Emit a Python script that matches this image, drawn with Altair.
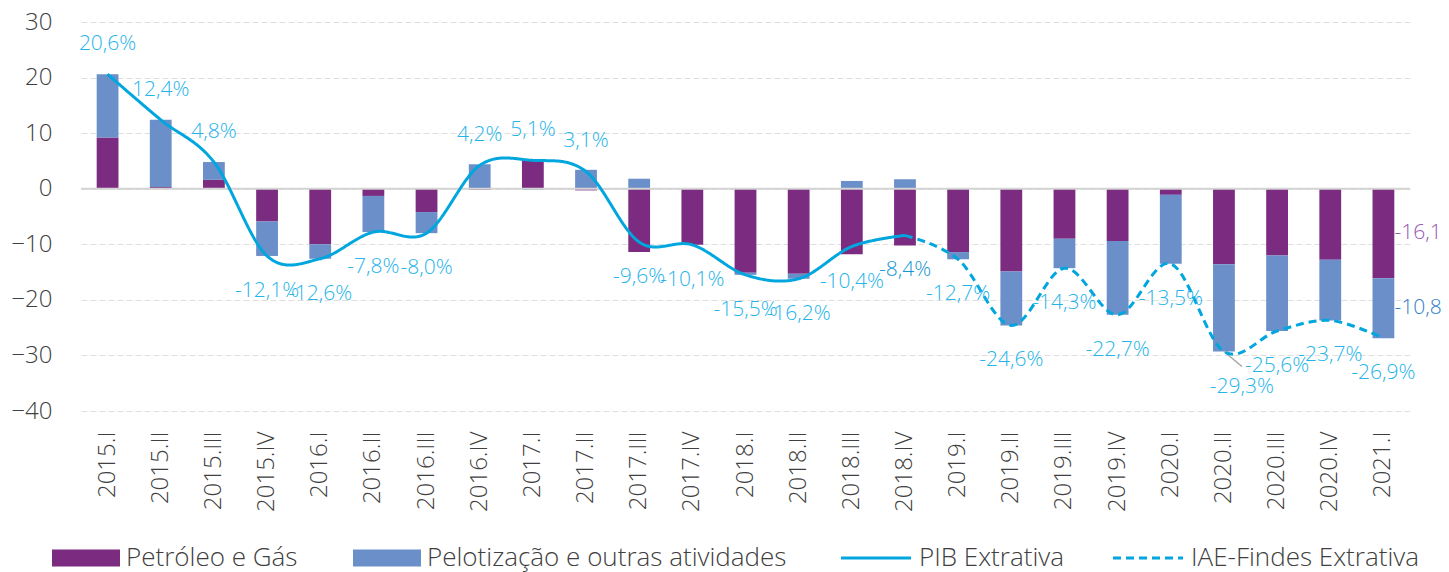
import altair as alt
import pandas as pd

# ---------------- data ----------------
categories = ["2015.I", "2015.II", "2015.III", "2015.IV",
              "2016.I", "2016.II", "2016.III", "2016.IV",
              "2017.I", "2017.II", "2017.III", "2017.IV",
              "2018.I", "2018.II", "2018.III", "2018.IV",
              "2019.I", "2019.II", "2019.III", "2019.IV",
              "2020.I", "2020.II", "2020.III", "2020.IV",
              "2021.I"]

petroleo = [9.2, 0.3, 1.6, -5.9, -10.0, -1.3, -4.2, -0.2, 5.3, -0.3, -11.4, -10.1,
            -15.1, -15.3, -11.8, -10.2, -11.4, -14.9, -9.0, -9.4, -1.1, -13.6,
            -12.0, -12.8, -16.1]
pelotizacao = [11.4, 12.1, 3.2, -6.2, -2.6, -6.5, -3.8, 4.4, -0.2, 3.4, 1.8, 0.0,
               -0.4, -0.9, 1.4, 1.7, -1.3, -9.7, -5.3, -13.3, -12.4, -15.7,
               -13.6, -10.9, -10.8]

pib_cats = categories[:16]
pib = [20.6, 12.4, 4.8, -12.1, -12.6, -7.8, -8.0, 4.2, 5.1, 3.1, -9.6, -10.1,
       -15.5, -16.2, -10.4, -8.4]
iae_cats = categories[15:]
iae = [-8.4, -12.7, -24.6, -14.3, -22.7, -13.5, -29.3, -25.6, -23.7, -26.9]

y_ticks = [-40, -30, -20, -10, 0, 10, 20, 30]

S_PET = "Petróleo e Gás"
S_PEL = "Pelotização e outras atividades"
S_PIB = "PIB Extrativa"
S_IAE = "IAE-Findes Extrativa"

# ---------------- tables ----------------
n = len(categories)
bars_df = pd.DataFrame({
    "cat": categories * 2,
    "comp": [S_PET] * n + [S_PEL] * n,
    "v": petroleo + pelotizacao,
    "ord": [0] * n + [1] * n,
})
lines_df = pd.DataFrame({
    "cat": pib_cats + iae_cats,
    "serie": [S_PIB] * len(pib_cats) + [S_IAE] * len(iae_cats),
    "v": pib + iae,
})
label_vals = pib + iae[1:]
labels_df = pd.DataFrame({
    "cat": categories,
    "v": label_vals,
    "txt": [f"{v:.1f}".replace(".", ",") + "%" for v in label_vals],
})
bars_df["txt"] = [f"{v:.1f}".replace(".", ",") for v in bars_df["v"]]

# ---------------- style ----------------
FONT = "Open Sans"
PURPLE = "#7B2C80"
BLUE = "#6A8FC9"
LINE = "#00A6DD"
LBL = "#25B4EA"
TXT = "#404040"

x_enc = alt.X("cat:N", sort=categories,
              scale=alt.Scale(paddingInner=0.59, paddingOuter=0.295),
              axis=alt.Axis(title=None, labelAngle=-90, domain=False, ticks=False,
                            labelPadding=20, labelFontSize=24, labelColor=TXT,
                            labelFont=FONT, labelFontWeight=300, grid=False))
y_scale = alt.Scale(domain=[-40, 30], nice=False)
y_axis = alt.Axis(title=None, values=y_ticks, domain=False, ticks=False,
                  labelPadding=29, labelFontSize=24, labelColor=TXT, labelFont=FONT,
                  labelFontWeight=300, grid=True, gridColor="#DEDEDE",
                  gridDash=[6, 3], gridWidth=1)

leg_common = dict(title=None, orient="none", direction="horizontal",
                  labelFontSize=26, labelFont=FONT, labelFontWeight=300,
                  labelColor=TXT, labelLimit=600, padding=0)

bars = alt.Chart(bars_df).mark_bar().encode(
    x=x_enc,
    y=alt.Y("v:Q", scale=y_scale, axis=y_axis, stack="zero"),
    color=alt.Color("comp:N",
                    scale=alt.Scale(domain=[S_PET, S_PEL], range=[PURPLE, BLUE]),
                    legend=alt.Legend(legendX=-8, legendY=523,
                                      symbolType="M-4,-1H4V1H-4Z",
                                      symbolSize=289, symbolStrokeWidth=0,
                                      labelOffset=27, columnPadding=55,
                                      **leg_common)),
    order=alt.Order("ord:Q"),
)

zero = alt.Chart(pd.DataFrame({"z": [0]})).mark_rule(color="#D4D4D4", strokeWidth=2).encode(
    y=alt.Y("z:Q", scale=y_scale))

lines = alt.Chart(lines_df).mark_line(interpolate="cardinal", strokeWidth=3, color=LINE).encode(
    x=alt.X("cat:N", sort=categories),
    y=alt.Y("v:Q", scale=y_scale),
    strokeDash=alt.StrokeDash("serie:N",
                              scale=alt.Scale(domain=[S_PIB, S_IAE], range=[[1, 0], [8, 5]]),
                              legend=alt.Legend(legendX=782, legendY=523,
                                                symbolType="M-4,0H4", symbolSize=306,
                                                symbolStrokeWidth=3, symbolStrokeColor=LINE,
                                                labelOffset=30, columnPadding=43,
                                                **leg_common)),
)

base_lbl = alt.Chart(labels_df).encode(
    x=alt.X("cat:N", sort=categories),
    y=alt.Y("v:Q", scale=y_scale),
    text="txt:N",
)
txt_kw = dict(font=FONT, fontSize=21, fontWeight=300, color=LBL, align="center",
              baseline="middle")
lbl_pos = base_lbl.mark_text(dy=-30, **txt_kw).transform_filter("datum.v >= 0")
lbl_neg = base_lbl.mark_text(dy=35, **txt_kw).transform_filter(
    "datum.v < 0 && datum.cat != '2020.II' && datum.cat != '2018.IV'")
kw2 = dict(txt_kw)
kw2["color"] = "#1795D3"
lbl_dark = base_lbl.mark_text(dy=35, **kw2).transform_filter("datum.cat == '2018.IV'")
lbl_shift = base_lbl.mark_text(dy=35, dx=18, **txt_kw).transform_filter("datum.cat == '2020.II'")
leader = base_lbl.mark_rule(color="#A6A6A6", strokeWidth=1.5, x2Offset=18, y2Offset=15).encode(
    x2=alt.X2("cat:N"), y2=alt.Y2("v:Q")
).transform_filter("datum.cat == '2020.II'")

last = categories[-1]
stack_base = alt.Chart(bars_df).transform_filter(
    f"datum.cat == '{last}'"
).transform_stack(
    stack="v", groupby=["cat"], as_=["y0", "y1"], sort=[alt.SortField("ord")]
).transform_calculate(mid="(datum.y0 + datum.y1) / 2").encode(
    x=alt.X("cat:N", sort=categories),
    y=alt.Y("mid:Q", scale=y_scale),
    text="txt:N",
)
side_kw = dict(font=FONT, fontSize=21, fontWeight=300, align="left", baseline="middle", dx=11)
side_pet = stack_base.mark_text(color="#9458B0", **side_kw).transform_filter(
    f"datum.comp == '{S_PET}'")
side_pel = stack_base.mark_text(color="#3380C6", **side_kw).transform_filter(
    f"datum.comp == '{S_PEL}'")

chart = alt.layer(
    bars, zero, leader, lines, lbl_pos, lbl_neg, lbl_dark, lbl_shift, side_pet, side_pel
).properties(
    width=1329, height=389,
    autosize=alt.AutoSizeParams(type="none"),
    padding={"left": 73, "top": 14, "right": 31, "bottom": 161},
).configure_view(stroke=None).resolve_scale(y="shared")

chart.save("out.html", embed_options={"renderer": "svg", "actions": False})
